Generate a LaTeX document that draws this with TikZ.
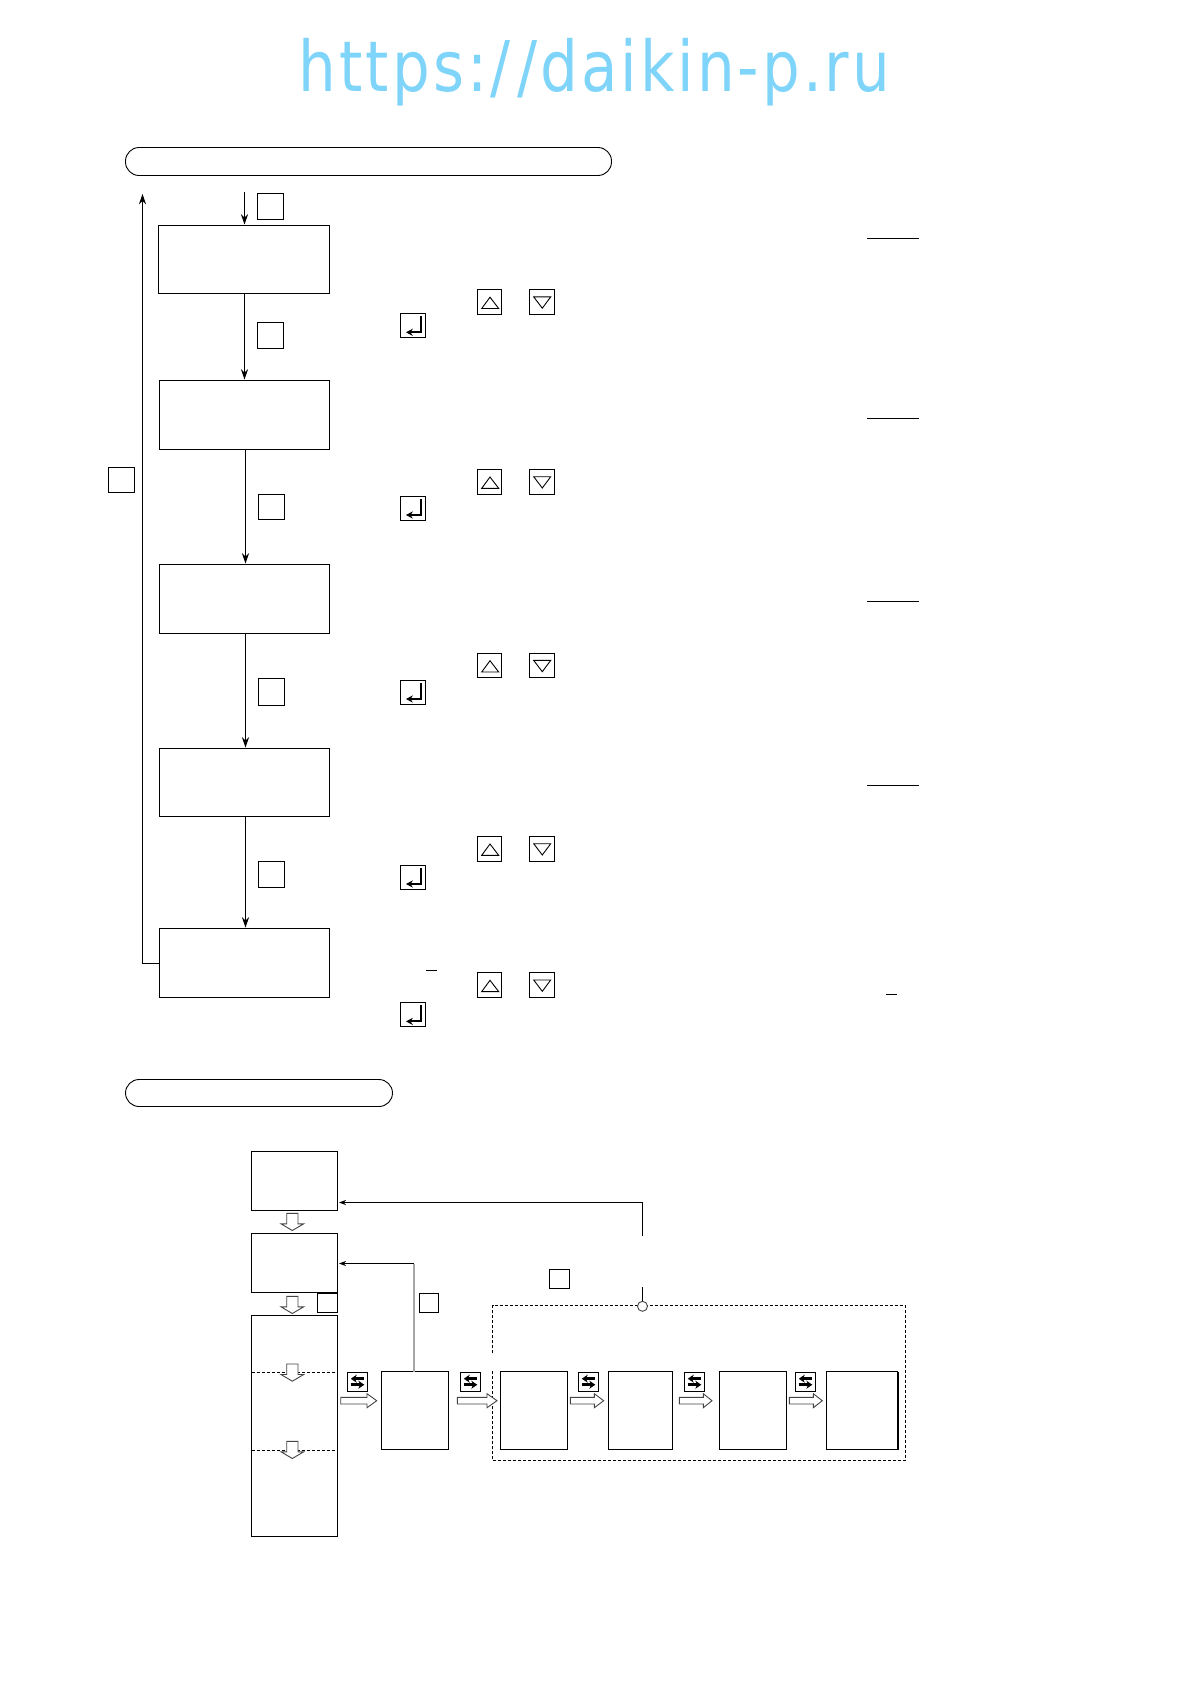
\documentclass[tikz,border=0pt]{standalone}
\usepackage{fontspec}
\usetikzlibrary{arrows.meta}
\newfontfamily\wmfont[FakeStretch=0.85,LetterSpace=4.3]{DejaVu Sans}
\definecolor{wm}{HTML}{7FD4F9}
\definecolor{blockline}{HTML}{444444}
\tikzset{
  boxst/.style={draw=black,line width=0.5pt,inner sep=0pt,outer sep=0pt,fill=white},
  flow/.style={draw=black,line width=0.5pt,-{Stealth[length=5.2pt,width=3.6pt]},shorten >=0.5pt},
  flowsm/.style={draw=black,line width=0.5pt,-{Stealth[length=3.5pt,width=2.6pt]},shorten >=0.8pt},
  pill/.style={draw=black,line width=0.45pt,inner sep=0pt,outer sep=0pt,rounded corners=6.8pt},
  glyph/.style={draw=black,line width=0.45pt},
  blockarrow/.style={draw=blockline,line width=0.45pt,fill=white,line join=miter},
  dashln/.style={draw=black,line width=0.5pt,dash pattern=on 1.5pt off 1pt},
  rule/.style={draw=black,line width=0.5pt},
}
% box by corners in reference pixels, snapped to pixel centres: [style]{name}{x1}{y1}{x2}{y2}
\newcommand\bx[6][]{%
  \pgfmathsetmacro\xa{floor(#3)+0.5}\pgfmathsetmacro\ya{floor(#4)+0.5}%
  \pgfmathsetmacro\xb{floor(#5)+0.5}\pgfmathsetmacro\yb{floor(#6)+0.5}%
  \node[boxst,#1,minimum width={(\xb-\xa)*0.5pt},minimum height={(\yb-\ya)*0.5pt}] (#2) at ({(\xa+\xb)/2},{(\ya+\yb)/2}) {};}
\newcommand\upbtn[2]{\bx{#1}{477.3}{#2}{501.7}{#2+24.8}
  \draw[glyph] (481.7,#2+19) -- (498.7,#2+19) -- (490,#2+7.7) -- cycle;}
\newcommand\dnbtn[2]{\bx{#1}{529.3}{#2}{554.7}{#2+24.8}
  \draw[glyph] (533.7,#2+7.4) -- (550.7,#2+7.4) -- (542.3,#2+18.7) -- cycle;}
\newcommand\enterbtn[2]{\bx{#1}{400.3}{#2}{425.3}{#2+24.2}
  \draw[draw=black,line width=1pt,-{Stealth[length=3.4pt,width=3.6pt]}] (420.7,#2+3) -- (420.7,#2+19) -- (406,#2+19);}
\newcommand\xbtn[2]{\bx{#1}{#2}{1372.3}{#2+20.4}{1391.7}
  \draw[draw=black,line width=1.3pt,-{Stealth[length=3pt,width=4pt]}] (#2+16.5,1378.7) -- (#2+3.5,1378.7);
  \draw[draw=black,line width=1.3pt,-{Stealth[length=3pt,width=4pt]}] (#2+3.5,1384.7) -- (#2+17,1384.7);}
\newcommand\dnarrow[2]{\draw[blockarrow] (286.7,#2) -- (298,#2) -- (298,#2+10.5) -- (303.7,#2+10.5) -- (292.3,#2+17.2) -- (281,#2+10.5) -- (286.7,#2+10.5) -- cycle;}
\newcommand\rtarrow[3]{\draw[blockarrow] (#1,1397.3) -- (#2,1397.3) -- (#2,1393.7) -- (#3,1400.7) -- (#2,1407.7) -- (#2,1404) -- (#1,1404) -- cycle;}
\begin{document}
\begin{tikzpicture}[x=0.5pt,y=-0.5pt]
\useasboundingbox (0,0) rectangle (1190,1682);
\fill[white] (0,0) rectangle (1190,1682);
\node[text=wm,font=\wmfont\fontsize{35}{35}\selectfont,inner sep=0pt,anchor=base] (wmark) at (594.5,91) {https:/\kern3.5pt/daikin-p.ru};
% section pills
\bx[draw=none,fill=none]{p1anchor}{125}{147.5}{611}{175.3}
\draw[pill] (p1anchor.south west) rectangle (p1anchor.north east);
\bx[draw=none,fill=none]{p2anchor}{125}{1079}{392}{1106}
\draw[pill] (p2anchor.south west) rectangle (p2anchor.north east);
% upper flow boxes
\bx{b1}{158.3}{225.3}{329.3}{293.3}
\bx{b2}{159.3}{380.3}{329.3}{449.6}
\bx{b3}{159.3}{564.4}{329.3}{633.6}
\bx{b4}{159.3}{748}{329.3}{816.6}
\bx{b5}{159.3}{928}{329.3}{997}
\coordinate (entry) at (244.5,192);
\coordinate (lowercol) at (245.5,192);
\coordinate (looptop) at (142.5,193);
\draw[flow] (entry) -- (b1.north -| entry);
\draw[flow] (b1.south -| entry) -- (b2.north -| entry);
\draw[flow] (b2.south -| lowercol) -- (b3.north -| lowercol);
\draw[flow] (b3.south -| lowercol) -- (b4.north -| lowercol);
\draw[flow] (b4.south -| lowercol) -- (b5.north -| lowercol);
\draw[flow] (b5.west) -| (looptop);
% small blank boxes
\bx{s1}{257.3}{193.3}{283.3}{219.3}
\bx{s2}{257.3}{322.3}{283.3}{348.3}
\bx{s3}{258.6}{494.7}{284.6}{519}
\bx{s4}{258.6}{678}{284.6}{705}
\bx{s5}{258.6}{861.6}{284.6}{887.4}
\bx{s6}{108.4}{467.8}{134.1}{492.5}
% buttons
\upbtn{u1}{289.5}\dnbtn{d1}{289.5}\enterbtn{e1}{313.3}
\upbtn{u2}{469.3}\dnbtn{d2}{469.3}\enterbtn{e2}{496}
\upbtn{u3}{653}\dnbtn{d3}{653}\enterbtn{e3}{680}
\upbtn{u4}{836.3}\dnbtn{d4}{836.3}\enterbtn{e4}{865}
\upbtn{u5}{972.6}\dnbtn{d5}{972.6}\enterbtn{e5}{1002.4}
% rules
\draw[rule] (867,238.5) -- (919,238.5);
\draw[rule] (867,418.5) -- (919,418.5);
\draw[rule] (867,601.5) -- (919,601.5);
\draw[rule] (867,785.5) -- (919,785.5);
\draw[rule] (886,994.5) -- (897,994.5);
\draw[rule] (426,970.5) -- (437,970.5);
% lower part
\bx{ba}{251.3}{1151.3}{337.7}{1210.3}
\bx{bb}{251.3}{1233.3}{337.7}{1292.3}
\bx{bc}{251.3}{1315.3}{337.7}{1536.6}
\draw[dashln] (bc.west |- 0,1372.5) -- (bc.east |- 0,1372.5);
\draw[dashln] (bc.west |- 0,1450.5) -- (bc.east |- 0,1450.5);
\dnarrow{a1}{1213.3}
\dnarrow{a2}{1296.3}
\dnarrow{a3}{1364}
\dnarrow{a4}{1441.3}
\bx{sb}{317.3}{1293.3}{337.7}{1312.7}
\bx{sc}{419.3}{1293.3}{438.7}{1312.7}
\bx{st}{549.3}{1269.3}{569.7}{1288.7}
% dashed frame with gap on the left
\coordinate (fgap1) at (492.5,1353.3);
\coordinate (fgap2) at (492.5,1370.7);
\coordinate (ftl) at (492.5,1305.5);
\coordinate (ftr) at (905.5,1305.5);
\coordinate (fbr) at (905.5,1460.5);
\coordinate (fbl) at (492.5,1460.5);
\draw[dashln] (fgap1) -- (ftl) -- (ftr) -- (fbr) -- (fbl) -- (fgap2);
% mode boxes
\bx{bd}{381.3}{1371.3}{448.7}{1449.3}
\bx{be}{500.3}{1371.3}{567.7}{1449.3}
\bx{bf}{608.3}{1371.3}{672.3}{1449.3}
\bx{bg}{719.3}{1371.3}{786.7}{1449.3}
\bx{bh}{826.3}{1371.3}{897.3}{1449.3}
\draw[line width=1pt] (bh.north east) -- (bh.south east);
\xbtn{x1}{347.3}\xbtn{x2}{460.3}\xbtn{x3}{578.3}\xbtn{x4}{684.3}\xbtn{x5}{795.3}
\rtarrow{340.7}{367}{376.7}
\rtarrow{457.3}{487}{497}
\rtarrow{570.3}{594.3}{603.7}
\rtarrow{679.3}{703.3}{712}
\rtarrow{789.3}{813.3}{822.3}
% return connectors
\node[draw=blockline,fill=white,circle,line width=0.45pt,minimum size=5pt,inner sep=0pt] (jn) at (642.5,1306.3) {};
\coordinate (stubtop) at (642.5,1287.3);
\coordinate (rettop) at (642.5,1236);
\draw[draw=black,line width=0.5pt] (stubtop) -- (jn.north);
\draw[flowsm] (rettop) |- (ba.east |- 0,1202.5);
\coordinate (bend) at (414,1263.5);
\draw[draw=black!35,line width=0.8pt] (bd.north -| bend) -- (bend);
\draw[flowsm] (bend) -- (bb.east |- bend);
\end{tikzpicture}
\end{document}
